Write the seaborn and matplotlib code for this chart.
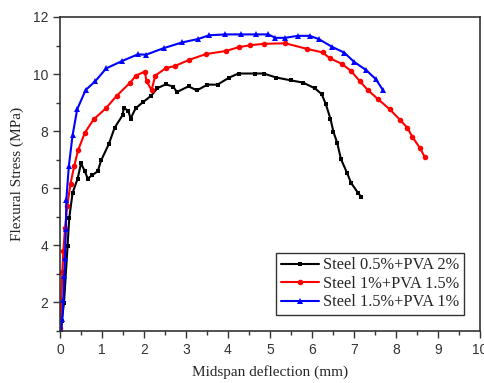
import matplotlib
matplotlib.use("Agg")
import matplotlib.pyplot as plt
from matplotlib.ticker import MultipleLocator
import seaborn as sns
import pandas as pd

# Steel 0.5% + PVA 2%
x_black = [0.02, 0.04, 0.095, 0.18, 0.22, 0.30, 0.42, 0.50, 0.59, 0.66, 0.77, 0.90, 0.98,
           1.16, 1.30, 1.49, 1.52, 1.63, 1.68, 1.80, 1.97, 2.17, 2.32, 2.52, 2.70, 2.78,
           3.06, 3.26, 3.51, 3.75, 4.03, 4.25, 4.65, 4.85, 5.15, 5.50, 5.79, 6.07, 6.23,
           6.33, 6.44, 6.51, 6.60, 6.69, 6.84, 6.93, 7.09, 7.17]
y_black = [1.0, 1.34, 1.98, 3.98, 4.96, 5.84, 6.34, 6.87, 6.60, 6.34, 6.46, 6.60, 6.98,
           7.54, 8.12, 8.56, 8.82, 8.70, 8.44, 8.80, 9.01, 9.24, 9.51, 9.64, 9.56, 9.37,
           9.57, 9.43, 9.63, 9.63, 9.88, 10.02, 10.02, 10.02, 9.88, 9.78, 9.70, 9.50, 9.30,
           8.94, 8.43, 7.98, 7.59, 7.02, 6.52, 6.19, 5.85, 5.70]

# Steel 1% + PVA 1.5%
x_red = [0.0, 0.03, 0.055, 0.08, 0.12, 0.17, 0.25, 0.34, 0.43, 0.59, 0.80, 1.09, 1.35,
         1.67, 1.81, 2.02, 2.06, 2.18, 2.27, 2.52, 2.73, 3.06, 3.47, 3.95, 4.25, 4.52,
         4.86, 5.36, 5.89, 6.25, 6.43, 6.71, 6.93, 7.14, 7.33, 7.58, 7.85, 8.10, 8.27,
         8.39, 8.57, 8.69]
y_red = [1.1, 2.0, 3.06, 3.82, 4.6, 5.37, 6.16, 6.79, 7.33, 7.94, 8.41, 8.80, 9.24,
         9.70, 9.95, 10.09, 9.75, 9.44, 9.95, 10.21, 10.28, 10.49, 10.70, 10.81, 10.94, 11.01,
         11.06, 11.08, 10.88, 10.76, 10.55, 10.36, 10.11, 9.75, 9.44, 9.11, 8.77, 8.39, 8.12,
         7.80, 7.41, 7.08]

# Steel 1.5% + PVA 1%
x_blue = [0.03, 0.055, 0.08, 0.10, 0.12, 0.14, 0.15, 0.21, 0.30, 0.41, 0.61, 0.84, 1.10,
          1.48, 1.85, 2.05, 2.47, 2.91, 3.29, 3.55, 3.94, 4.32, 4.67, 4.96, 5.13, 5.36,
          5.66, 5.95, 6.17, 6.47, 6.77, 7.00, 7.29, 7.52, 7.68]
y_blue = [1.0, 1.43, 2.09, 2.91, 3.57, 4.56, 5.58, 6.77, 7.86, 8.77, 9.44, 9.75, 10.20,
          10.46, 10.69, 10.68, 10.91, 11.11, 11.23, 11.36, 11.39, 11.39, 11.39, 11.39, 11.27, 11.27,
          11.34, 11.34, 11.22, 10.96, 10.75, 10.43, 10.14, 9.82, 9.46]

labels = ["Steel 0.5%+PVA 2%", "Steel 1%+PVA 1.5%", "Steel 1.5%+PVA 1%"]

series = [(x_black, y_black, labels[0], "black", "s", 3.5),
          (x_red, y_red, labels[1], "red", "o", 4),
          (x_blue, y_blue, labels[2], "blue", "^", 4.5)]

sns.set_style("white")
plt.rcParams["font.family"] = ["Liberation Serif", "DejaVu Serif"]

fig = plt.figure(figsize=(4.84, 3.83), dpi=100)
ax = fig.add_axes([60/484, 1-331/383, 420/484, 314/383])

for xs, ys, lab, col, mk, ms in series:
    df = pd.DataFrame({"x": xs, "y": ys})
    sns.lineplot(data=df, x="x", y="y", sort=False, estimator=None, ax=ax,
                 color=col, marker=mk, markersize=ms, markeredgewidth=0,
                 linewidth=1.5, label=lab)

ax.set_xlim(0, 10)
ax.set_ylim(1, 12)
ax.xaxis.set_major_locator(MultipleLocator(1))
ax.xaxis.set_minor_locator(MultipleLocator(0.5))
ax.yaxis.set_major_locator(MultipleLocator(2))
ax.yaxis.set_minor_locator(MultipleLocator(1))
ax.tick_params(which="both", direction="out", top=False, right=False,
               left=True, bottom=True, color="#333333")
ax.tick_params(which="major", length=5, width=1, labelsize=10, labelcolor="#333333")
ax.tick_params(which="minor", length=3, width=1)
for t in ax.get_xticklabels() + ax.get_yticklabels():
    t.set_fontfamily("Liberation Sans")
for s in ax.spines.values():
    s.set_color("#333333")
    s.set_linewidth(1.2)

ax.set_xlabel("Midspan deflection (mm)", fontsize=11, labelpad=6)
ax.set_ylabel("Flexural Stress (MPa)", fontsize=11, labelpad=6)

leg = ax.legend(loc="lower right", bbox_to_anchor=(0.962, 0.05), fontsize=11.8,
                frameon=True, fancybox=False, edgecolor="black", handlelength=2.3,
                borderpad=0.3, labelspacing=0.15, handletextpad=0.25, borderaxespad=0)
leg.get_frame().set_linewidth(1.0)

fig.savefig("out.png", dpi=100)
